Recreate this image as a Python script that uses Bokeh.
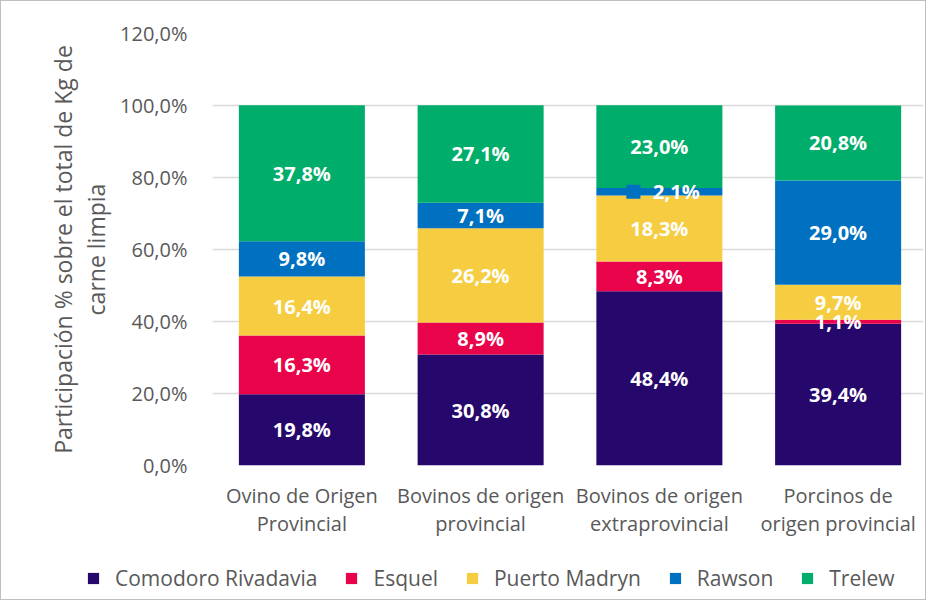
from bokeh.plotting import figure
from bokeh.layouts import column
from bokeh.models import ColumnDataSource, FixedTicker, Legend, LegendItem, Range1d
from bokeh.core.properties import value
from bokeh.embed import file_html
from bokeh.resources import INLINE

# ---- data ----
categories = ["Ovino de Origen\nProvincial", "Bovinos de origen\nprovincial",
              "Bovinos de origen\nextraprovincial", "Porcinos de\norigen provincial"]
series_names = ["Comodoro Rivadavia", "Esquel", "Puerto Madryn", "Rawson", "Trelew"]
comodoro = [19.8, 30.8, 48.4, 39.4]
esquel = [16.3, 8.9, 8.3, 1.1]
madryn = [16.4, 26.2, 18.3, 9.7]
rawson = [9.8, 7.1, 2.1, 29.0]
trelew = [37.8, 27.1, 23.0, 20.8]
series_values = [comodoro, esquel, madryn, rawson, trelew]
colors = ["#26076B", "#E9034B", "#F6CD40", "#0070C0", "#00AD6A"]
y_ticks = [0, 20, 40, 60, 80, 100, 120]
y_tick_labels = ["0,0%", "20,0%", "40,0%", "60,0%", "80,0%", "100,0%", "120,0%"]

FONT = "Open Sans"
TXT = "#595959"
GRID = "#D9D9D9"

W = 924
H1, H2 = 555, 43
FRAME_L, FRAME_T, FRAME_R = 211, 32, 922
FRAME_H = 432
x_end = len(categories) * (FRAME_R - FRAME_L) / 715.0

p = figure(width=W, height=H1, output_backend="svg", toolbar_location=None,
           x_range=Range1d(0, x_end), y_range=Range1d(0, 120),
           min_border_left=FRAME_L, min_border_right=W - FRAME_R, min_border_top=FRAME_T,
           min_border_bottom=H1 - FRAME_T - FRAME_H)
p.frame_align = False
p.outline_line_color = None
p.background_fill_color = "white"
p.border_fill_color = "white"

xs = [i + 0.5 for i in range(len(categories))]
bar_w = 0.705

sources = []
bottoms = [0.0] * len(categories)
label_x, label_y, label_t = [], [], []
small_x, small_y, small_t, small_c = [], [], [], []
for name, vals, col in zip(series_names, series_values, colors):
    tops = [b + v for b, v in zip(bottoms, vals)]
    src = ColumnDataSource(dict(x=xs, bottom=bottoms, top=tops))
    sources.append(src)
    p.vbar(x="x", bottom="bottom", top="top", width=bar_w, source=src,
           fill_color=col, line_color=None)
    for x, b, v in zip(xs, bottoms, vals):
        txt = ("%.1f%%" % v).replace(".", ",")
        if v < 3 and name == "Rawson":
            small_x.append(x); small_y.append(b + v / 2); small_t.append(txt); small_c.append(col)
        else:
            label_x.append(x); label_y.append(b + v / 2); label_t.append(txt)
    bottoms = tops

p.text(x=label_x, y=label_y, text=label_t, text_color="white", text_font=value(FONT),
       text_font_size="20px", text_font_style="bold", text_align="center",
       text_baseline="middle")

# small label with legend key (Excel style)
px_per_unit = 715 / len(categories)
key_dx = -26 / px_per_unit
p.scatter(x=[x + key_dx for x in small_x], y=small_y, marker="square", size=14,
          fill_color=small_c, line_color=None)
p.text(x=small_x, y=small_y, text=small_t, x_offset=17, text_color="white",
       text_font=value(FONT), text_font_size="20px", text_font_style="bold",
       text_align="center", text_baseline="middle")

# y axis
p.yaxis.ticker = FixedTicker(ticks=y_ticks)
p.yaxis.major_label_overrides = {t: l for t, l in zip(y_ticks, y_tick_labels)}
p.yaxis.axis_line_color = None
p.yaxis.major_tick_line_color = None
p.yaxis.minor_tick_line_color = None
p.yaxis.major_label_standoff = 19
p.yaxis.major_label_text_font = FONT
p.yaxis.major_label_text_font_size = "20px"
p.yaxis.major_label_text_color = TXT
p.yaxis.axis_label = "Participación % sobre el total de Kg de\ncarne limpia"
p.yaxis.axis_label_text_font = FONT
p.yaxis.axis_label_text_font_size = "23px"
p.yaxis.axis_label_text_font_style = "normal"
p.yaxis.axis_label_text_color = TXT
p.yaxis.axis_label_text_line_height = 1.02
p.yaxis.axis_label_standoff = 5

# x axis
p.xaxis.ticker = FixedTicker(ticks=xs)
p.xaxis.major_label_overrides = {x: c for x, c in zip(xs, categories)}
p.xaxis.axis_line_color = None
p.xaxis.major_tick_line_color = None
p.xaxis.minor_tick_line_color = None
p.xaxis.major_label_standoff = 10
p.xaxis.major_label_text_font = FONT
p.xaxis.major_label_text_font_size = "20px"
p.xaxis.major_label_text_color = TXT
p.xaxis.major_label_text_line_height = 1.07

p.xgrid.grid_line_color = None
p.ygrid.ticker = FixedTicker(ticks=y_ticks)
p.ygrid.grid_line_color = GRID
p.ygrid.grid_line_width = 1.5

# ---- legend strip (separate figure so the legend can span the full width) ----
# it reuses the bar sources; its y range lies above 100 % so the bars themselves stay out of view
pl = figure(width=W, height=H2, output_backend="svg", toolbar_location=None,
            x_range=Range1d(0, x_end), y_range=Range1d(500, 501),
            x_axis_type=None, y_axis_type=None,
            min_border_left=0, min_border_right=0, min_border_top=0, min_border_bottom=0)
pl.frame_align = False
pl.outline_line_color = None
pl.grid.grid_line_color = None
legend_items = []
for name, col, src in zip(series_names, colors, sources):
    lr = pl.vbar(x="x", bottom="bottom", top="top", width=bar_w, source=src,
                 fill_color=col, line_color=None)
    legend_items.append(LegendItem(label=name, renderers=[lr]))
legend = Legend(items=legend_items, orientation="horizontal", location=(85, 7),
                glyph_width=14, glyph_height=14, label_standoff=15, spacing=27,
                padding=0, margin=0, border_line_color=None, background_fill_alpha=0,
                label_text_font=FONT, label_text_font_size="21px", label_text_color=TXT)
pl.add_layout(legend, "center")

layout = column(p, pl, spacing=0, styles={"border": "1px solid #BFBFBF"})

open("out.html", "w").write(file_html(layout, INLINE))
